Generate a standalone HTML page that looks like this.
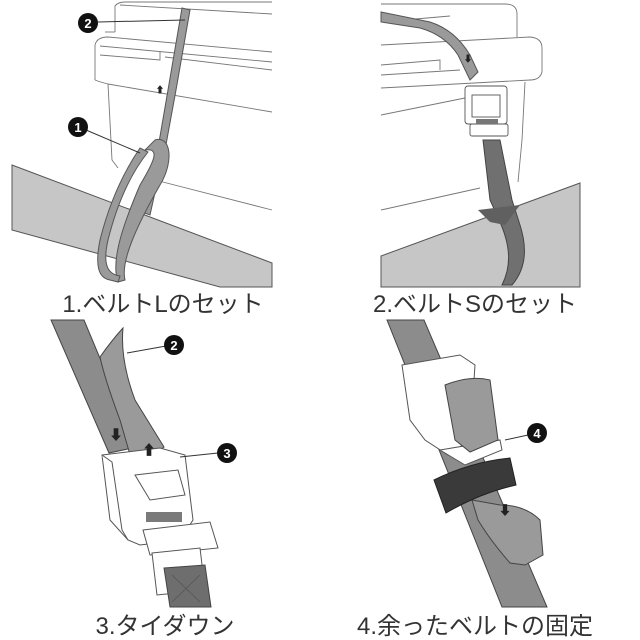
<!DOCTYPE html>
<html><head><meta charset="utf-8"><style>
html,body{margin:0;padding:0;background:#fff;}
svg{display:block;}
text{font-family:"Liberation Sans","Noto Sans CJK JP",sans-serif;}
</style></head><body>
<svg width="640" height="640" viewBox="0 0 640 640" xmlns="http://www.w3.org/2000/svg">
<rect width="640" height="640" fill="#fff"/>
<!-- ===== Panel 1 ===== -->
<g fill="none" stroke="#777" stroke-width="0.9">
  <path d="M115,32 L115,6 Q118,2 125,2 L272,2"/>
  <path d="M120,5 L272,14"/>
  <path d="M95,80 L95,45 Q97,37 108,37 L272,52"/>
  <path d="M100,46 L272,62"/>
  <path d="M100,55 L160,60 L160,52 M165,57 L272,70"/>
  <path d="M95,80 Q100,82 108,84 L272,112"/>
  <path d="M108,84 L112,160 L118,168"/>
  <path d="M155,180 L272,210"/>
  <path d="M115,32 L105,32" />
</g>
<polygon points="12,165 272,263 272,287 220,287 12,230" fill="#c6c6c6" stroke="#555" stroke-width="1"/>
<!-- belt L -->
<g stroke="#555" stroke-width="1" fill="#9a9a9a">
  <path d="M182,8 L190,10 L176,90 L165,150 L160,170 L150,215 L142,212 L152,168 L158,148 L168,90 Z"/>
  <path d="M155,140 C170,135 175,160 160,185 C140,220 120,260 125,280 L118,282 C110,260 125,220 140,185 C155,160 160,148 145,150 Z"/>
  <path d="M140,148 C125,170 110,200 100,240 C95,265 98,278 110,280 L118,282 L120,276 C106,274 103,262 108,240 C118,200 132,172 148,152 Z"/>
</g>
<text x="160" y="93" font-size="9" fill="#222" text-anchor="middle">⬆</text>
<line x1="98" y1="22" x2="185" y2="20" stroke="#333" stroke-width="1"/>
<circle cx="88" cy="23" r="10" fill="#111"/><text x="88" y="28" font-size="13" font-weight="bold" fill="#fff" text-anchor="middle">2</text>
<line x1="86" y1="130" x2="140" y2="153" stroke="#333" stroke-width="1"/>
<circle cx="78" cy="127" r="10" fill="#111"/><text x="78" y="132" font-size="13" font-weight="bold" fill="#fff" text-anchor="middle">1</text>
<!-- ===== Panel 2 ===== -->
<g fill="none" stroke="#777" stroke-width="0.9">
  <path d="M381,4 L505,4 Q517,4 517,14 L517,37"/>
  <path d="M381,22 L450,16"/>
  <path d="M381,45 L530,37 Q542,38 542,48 L542,72 Q540,80 530,80 L381,88"/>
  <path d="M381,65 L440,60 L440,70 M381,75 L460,70"/>
  <path d="M525,82 L522,140 L518,182"/>
  <path d="M381,115 L465,98"/>
  <path d="M381,210 L480,188"/>
</g>
<path d="M381,256 L580,183 L580,287 L381,287 Z" fill="#c6c6c6" stroke="#555" stroke-width="1"/>
<path d="M381,12 L430,22 Q455,30 470,55 L478,72 L470,80 L458,55 Q445,35 420,28 L381,22 Z" fill="#9a9a9a" stroke="#555" stroke-width="1"/>
<text x="468" y="62" font-size="9" fill="#222" text-anchor="middle">⬇</text>
<path d="M483,140 L500,140 L512,200 L520,225 C528,250 525,270 512,285 L502,285 C512,265 510,245 500,222 L490,200 Z" fill="#707070" stroke="#444" stroke-width="1"/>
<path d="M478,210 L520,205 L505,225 L490,222 Z" fill="#606060"/>
<g fill="#fff" stroke="#555" stroke-width="0.9">
  <rect x="465" y="86" width="42" height="38" rx="3"/>
  <rect x="472" y="95" width="28" height="22"/>
  <rect x="470" y="124" width="38" height="12" rx="2"/>
</g>
<rect x="476" y="119" width="22" height="5" fill="#777"/>
<!-- ===== Panel 3 ===== -->
<polygon points="51,320 84,320 137,447 109,453" fill="#8c8c8c" stroke="#444" stroke-width="1"/>
<path d="M100,357 Q112,340 123,328 Q120,360 135,400 L164,447 L135,472 L120,420 Q105,380 100,357 Z" fill="#9a9a9a" stroke="#444" stroke-width="1"/>
<g fill="#fff" stroke="#555" stroke-width="1">
  <path d="M102,455 L160,448 L185,455 L193,520 L180,540 L140,545 L128,540 L110,520 Z"/>
  <path d="M102,455 L112,462 L122,530 L128,540"/>
  <path d="M135,475 L178,470 L185,495 L150,500 Z"/>
  <path d="M143,530 L210,522 L218,548 L150,555 Z"/>
  <path d="M152,553 L200,548 L205,590 L157,595 Z"/>
</g>
<rect x="146" y="512" width="36" height="10" fill="#7a7a7a"/>
<polygon points="164,568 205,565 211,607 170,607" fill="#6e6e6e" stroke="#444" stroke-width="1"/>
<path d="M172,575 L200,602 M200,575 L172,602" stroke="#555" stroke-width="0.8"/>
<text x="116" y="440" font-size="14" fill="#222" text-anchor="middle">⬇</text>
<text x="149" y="455" font-size="14" fill="#222" text-anchor="middle">⬆</text>
<line x1="127" y1="353" x2="166" y2="346" stroke="#333" stroke-width="1"/>
<circle cx="174" cy="345" r="10" fill="#111"/><text x="174" y="350" font-size="13" font-weight="bold" fill="#fff" text-anchor="middle">2</text>
<line x1="180" y1="457" x2="218" y2="453" stroke="#333" stroke-width="1"/>
<circle cx="227" cy="453" r="10" fill="#111"/><text x="227" y="458" font-size="13" font-weight="bold" fill="#fff" text-anchor="middle">3</text>
<!-- ===== Panel 4 ===== -->
<polygon points="387,320 424,320 547,607 502,607" fill="#8c8c8c" stroke="#444" stroke-width="1"/>
<g fill="#fff" stroke="#555" stroke-width="1">
  <path d="M402,365 L460,355 L475,365 L470,440 L448,455 L425,440 L410,420 Z"/>
  <path d="M440,450 L500,440 L502,450 L465,465 Z"/>
</g>
<path d="M445,385 Q470,375 490,380 L498,440 L470,452 L455,440 Z" fill="#9a9a9a" stroke="#444" stroke-width="1"/>
<path d="M472,500 L500,505 Q525,505 540,520 L543,555 L525,565 L510,563 Q490,540 478,520 Z" fill="#9a9a9a" stroke="#444" stroke-width="1"/>
<path d="M434,480 Q470,462 510,458 L516,485 Q480,493 446,513 Z" fill="#3a3a3a" stroke="#222" stroke-width="1"/>
<text x="505" y="515" font-size="13" fill="#222" text-anchor="middle">⬇</text>
<line x1="505" y1="440" x2="528" y2="435" stroke="#333" stroke-width="1"/>
<circle cx="537" cy="433" r="10" fill="#111"/><text x="537" y="438" font-size="13" font-weight="bold" fill="#fff" text-anchor="middle">4</text>
<!-- labels -->
<g font-size="24" fill="#333" text-anchor="middle">
  <text x="163" y="312">1.ベルトLのセット</text>
  <text x="475" y="312">2.ベルトSのセット</text>
  <text x="165" y="634">3.タイダウン</text>
  <text x="475" y="634">4.余ったベルトの固定</text>
</g>
</svg>
</body></html>
